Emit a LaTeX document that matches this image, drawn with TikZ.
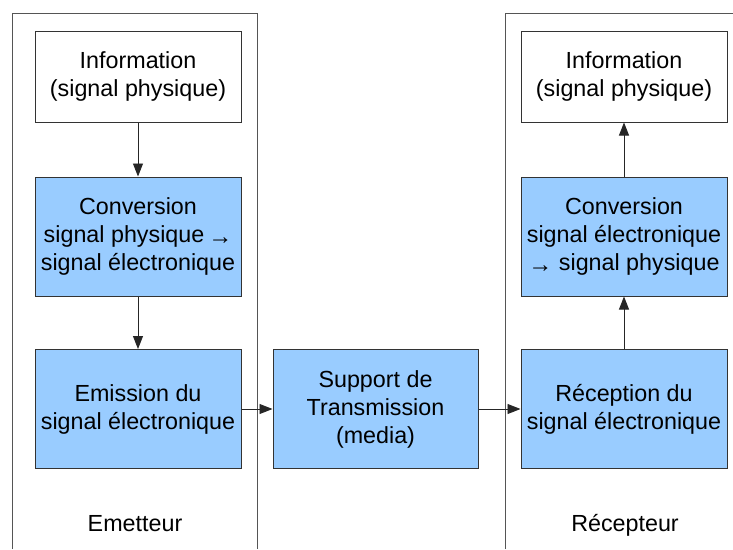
\documentclass[tikz,border=0pt]{standalone}
\usepackage{fontspec}
\setmainfont{Liberation Sans}
\usetikzlibrary{arrows.meta}
\definecolor{boxblue}{HTML}{99CCFF}
\definecolor{frame}{HTML}{555555}
\definecolor{edge}{HTML}{333333}
\newcommand{\smallarrow}{\raisebox{-1.5pt}{\fontsize{24}{24}\selectfont →}}
\begin{document}
\begin{tikzpicture}[x=1pt,y=-1pt,
  blk/.style={draw=edge,line width=1pt,minimum width=206pt,align=center,inner sep=0pt,
    font=\fontsize{23.3}{28}\selectfont},
  whiteblk/.style={blk,fill=white,minimum height=91pt},
  blueblk/.style={blk,fill=boxblue,minimum height=119pt},
  conn/.style={draw=black!85,line width=0.9pt,-{Triangle[length=13pt,width=10pt]}},
  lbl/.style={font=\fontsize{23.3}{28}\selectfont,anchor=base},
  framel/.style={draw=frame,line width=1pt}]
\useasboundingbox (0,0) rectangle (733,549);
\fill[white] (0,0) rectangle (733,549);
% frames
\draw[framel] (12,549) -- (12,13) -- (257,13) -- (257,549);
\draw[framel] (505,549) -- (505,13) -- (734,13);
% emitter
\node[whiteblk] (infoL) at (138,76.5) {Information\\(signal physique)};
\node[blueblk] (convL) at (138,236.5) {Conversion\\signal physique\,\smallarrow\\signal électronique};
\node[blueblk] (emis) at (138,409) {Emission du\\signal électronique};
% medium
\node[blueblk,minimum width=205pt] (supp) at (375.5,409) {Support de\\Transmission\\(media)};
% receiver
\node[whiteblk] (infoR) at (624,76.5) {Information\\(signal physique)};
\node[blueblk] (convR) at (624,236.5) {Conversion\\signal électronique\\\smallarrow\ signal physique};
\node[blueblk] (recep) at (624,409) {Réception du\\signal électronique};
% connectors
\draw[conn] (infoL) -- (convL);
\draw[conn] (convL) -- (emis);
\draw[conn] (emis) -- (supp);
\draw[conn] (supp) -- (recep);
\draw[conn] (recep) -- (convR);
\draw[conn] (convR) -- (infoR);
% labels
\node[lbl] (emet) at (135,531) {Emetteur};
\node[lbl] (recp) at (625,531) {Récepteur};
\end{tikzpicture}
\end{document}
